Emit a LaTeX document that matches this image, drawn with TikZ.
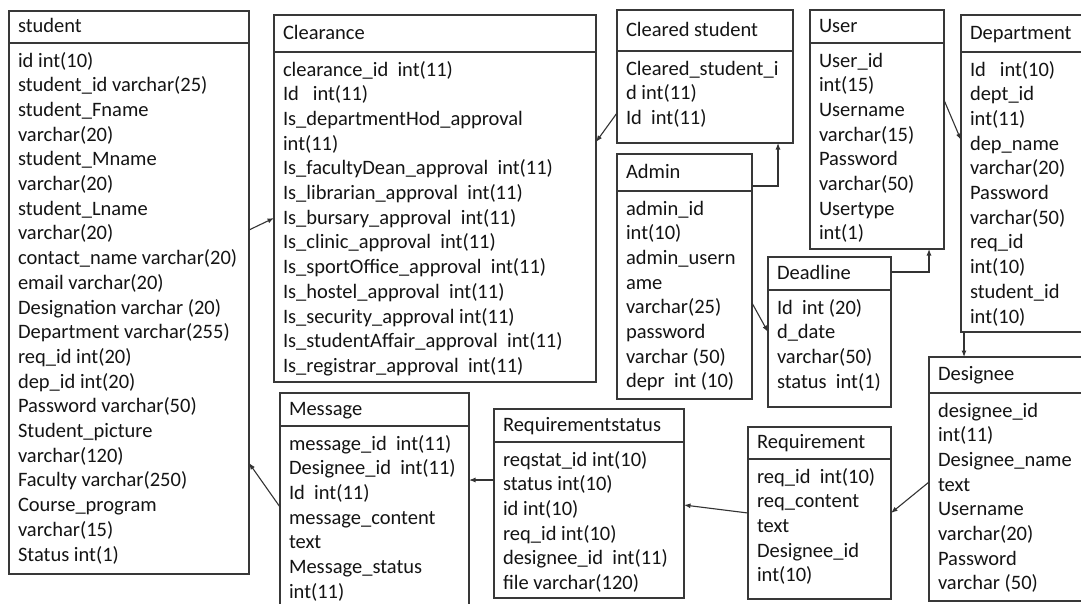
\documentclass[tikz,border=0pt]{standalone}
\usepackage{fontspec}
\setmainfont{Carlito}
\usetikzlibrary{fit,arrows.meta}
\newcommand{\ertable}[8]{%
  \node[tbl, fit={(#2,#3) (#5,#6)}] (#1) {};
  \draw[sepline] (#2,#4) -- (#5,#4);
  \node[txt] (#1-h) at ({#2+9},{(#3+#4)/2+5.5}) {#7};
  \node[txt] (#1-b) at ({#2+9},{#4+24}) {\begin{tabular}[t]{@{}l@{}}#8\end{tabular}};
}
\begin{document}
\begin{tikzpicture}[x=1pt,y=-1pt,
  tbl/.style={draw=black!78, line width=1.3pt, inner sep=0pt, outer sep=0pt, rectangle},
  sepline/.style={draw=black!78, line width=1.3pt},
  txt/.style={anchor=base west, inner sep=0pt, outer sep=0pt, text=black!92, font=\fontsize{20.5}{24.7}\selectfont},
  conn/.style={draw=black!80, line width=1.1pt},
  arr/.style={conn, -{Latex[length=6.5pt,width=5pt]}}]
\useasboundingbox[fill=white] (0,0) rectangle (1081,603);

\ertable{student}{9}{11}{43}{249}{574}{student}{id int(10)\\ student\_id varchar(25)\\ student\_Fname\\ varchar(20)\\ student\_Mname\\ varchar(20)\\ student\_Lname\\ varchar(20)\\ contact\_name varchar(20)\\ email varchar(20)\\ Designation varchar (20)\\ Department varchar(255)\\ req\_id int(20)\\ dep\_id int(20)\\ Password varchar(50)\\ Student\_picture\\ varchar(120)\\ Faculty varchar(250)\\ Course\_program\\ varchar(15)\\ Status int(1)}

\ertable{clearance}{274}{15}{52}{596}{382}{Clearance}{clearance\_id\ \ int(11)\\ Id\ \ \ int(11)\\ Is\_departmentHod\_approval\\ int(11)\\ Is\_facultyDean\_approval\ \ int(11)\\ Is\_librarian\_approval\ \ int(11)\\ Is\_bursary\_approval\ \ int(11)\\ Is\_clinic\_approval\ \ int(11)\\ Is\_sportOffice\_approval\ \ int(11)\\ Is\_hostel\_approval\ \ int(11)\\ Is\_security\_approval int(11)\\ Is\_studentAffair\_approval\ \ int(11)\\ Is\_registrar\_approval\ \ int(11)}

\ertable{cleared}{617}{10}{51}{793}{143}{Cleared student}{Cleared\_student\_i\\ d int(11)\\ Id\ \ int(11)}

\ertable{admin}{617}{154}{191}{752}{399}{Admin}{admin\_id\\ int(10)\\ admin\_usern\\ ame\\ varchar(25)\\ password\\ varchar (50)\\ depr\ \ int (10)}

\ertable{user}{810}{10}{43}{944}{249}{User}{User\_id\\ int(15)\\ Username\\ varchar(15)\\ Password\\ varchar(50)\\ Usertype\\ int(1)}

\ertable{dept}{961}{15}{52}{1095}{332}{Department}{Id\ \ \ int(10)\\ dept\_id\\ int(11)\\ dep\_name\\ varchar(20)\\ Password\\ varchar(50)\\ req\_id\\ int(10)\\ student\_id\\ int(10)}

\ertable{deadline}{768}{257}{290}{891}{407}{Deadline}{Id\ \ int (20)\\ d\_date\\ varchar(50)\\ status\ \ int(1)}

\ertable{designee}{929}{357}{393}{1095}{601}{Designee}{designee\_id\\ int(11)\\ Designee\_name\\ text\\ Username\\ varchar(20)\\ Password\\ varchar (50)}

\ertable{requirement}{748}{427}{459}{891}{599}{Requirement}{req\_id\ \ int(10)\\ req\_content\\ text\\ Designee\_id\\ int(10)}

\ertable{reqstatus}{494}{409}{442}{684}{598}{Requirementstatus}{reqstat\_id int(10)\\ status int(10)\\ id int(10)\\ req\_id int(10)\\ designee\_id\ \ int(11)\\ file varchar(120)}

\ertable{message}{280}{393}{426}{469}{625}{Message}{message\_id\ \ int(11)\\ Designee\_id\ \ int(11)\\ Id\ \ int(11)\\ message\_content\\ text\\ Message\_status\\ int(11)}

% connectors
\draw[arr] (student.east |- 0,230) -- (clearance.west |- 0,218);
\draw[arr] (cleared.west |- 0,113) -- (clearance.east |- 0,142);
\draw[arr] (admin.east |- 0,186) -| (cleared.south -| 778,0);
\draw[arr] (admin.east |- 0,303) -- (deadline.west |- 0,332);
\draw[arr] (deadline.east |- 0,272) -| (user.south -| 929,0);
\draw[arr] (user.east |- 0,100) -- (dept.west |- 0,140);
\draw[arr] (dept.south -| 964,0) -- (designee.north -| 964,0);
\draw[arr] (designee.west |- 0,482) -- (requirement.east |- 0,513);
\draw[arr] (requirement.west |- 0,513) -- (reqstatus.east |- 0,505);
\draw[arr] (reqstatus.west |- 0,480) -- (message.east |- 0,480);
\draw[arr] (message.west |- 0,507) -- (student.east |- 0,463);
\end{tikzpicture}
\end{document}
